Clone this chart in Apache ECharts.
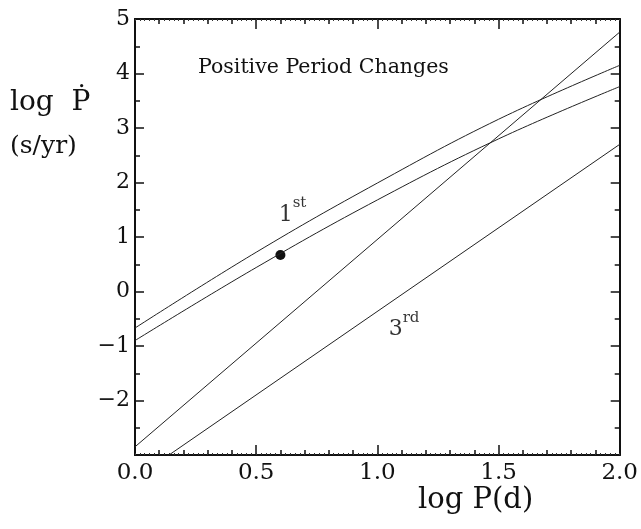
<!DOCTYPE html>
<html>
<head>
<meta charset="utf-8">
<script src="https://cdn.jsdelivr.net/npm/echarts@6/dist/echarts.min.js"></script>
<style>html,body{margin:0;padding:0;background:#fff}#c{width:641px;height:529px}</style>
</head>
<body>
<div id="c"></div>
<script>
// ---- data ----
const xTicks = [0.0, 0.5, 1.0, 1.5, 2.0];
const yTicks = [-2, -1, 0, 1, 2, 3, 4, 5];
const curveX = [0.0, 0.5, 1.0, 1.5, 2.0];
const curveUpper = [-0.67, 0.72, 1.99, 3.16, 4.15];
const curveLower = [-0.90, 0.44, 1.68, 2.80, 3.76];
const steepX = [0.0, 2.0];
const steepY = [-2.85, 4.76];
const thirdX = [0.0, 2.0];
const thirdY = [-3.43, 2.70];
const starPoint = [0.6, 0.67];
const labelFirstPos = [0.65, 1.48];
const labelThirdPos = [1.11, -0.62];
const titleText = 'Positive Period Changes';

const FONT = 'DejaVu Serif';
const zip = (xs, ys) => xs.map((x, i) => [x, ys[i]]);

const baseX = {type: 'value', min: 0, max: 2, splitLine: {show: false}, axisLine: {onZero: false, lineStyle: {color: '#111', width: 2}}};
const baseY = {type: 'value', min: -3, max: 5, splitLine: {show: false}, axisLine: {onZero: false, lineStyle: {color: '#111', width: 2}}};

const chart = echarts.init(document.getElementById('c'));
const lineStyle = {color: '#222', width: 1};
chart.setOption({
  animation: false,
  backgroundColor: '#fff',
  grid: {left: 135, right: 19, top: 19, bottom: 74, containLabel: false},
  xAxis: [
    Object.assign({}, baseX, {position: 'bottom', interval: 0.5,
      axisTick: {inside: true, length: 10, lineStyle: {color: '#111', width: 1.5}},
      minorTick: {show: true, splitNumber: 5, length: 5, lineStyle: {color: '#111', width: 1.5}},
      axisLabel: {fontFamily: FONT, fontSize: 23, color: '#111', margin: 7,
        formatter: v => xTicks.some(t => Math.abs(t - v) < 1e-9) ? v.toFixed(1) : ''}}),
    Object.assign({}, baseX, {position: 'top', interval: 0.5,
      axisTick: {inside: true, length: 10, lineStyle: {color: '#111', width: 1.5}},
      minorTick: {show: true, splitNumber: 5, length: 5, lineStyle: {color: '#111', width: 1.5}},
      axisLabel: {show: false}}),
    Object.assign({}, baseX, {position: 'bottom', interval: 0.02,
      axisTick: {inside: true, length: 2, lineStyle: {color: '#333', width: 1}},
      axisLabel: {show: false}}),
    Object.assign({}, baseX, {position: 'top', interval: 0.02,
      axisTick: {inside: true, length: 2, lineStyle: {color: '#333', width: 1}},
      axisLabel: {show: false}})
  ],
  yAxis: [
    Object.assign({}, baseY, {position: 'left', interval: 1,
      axisTick: {inside: true, length: 9, lineStyle: {color: '#111', width: 1.5}},
      minorTick: {show: true, splitNumber: 2, length: 5, lineStyle: {color: '#111', width: 1.5}},
      axisLabel: {fontFamily: FONT, fontSize: 22, color: '#111', margin: 5,
        formatter: v => yTicks.includes(v) ? (v < 0 ? '\u2212' + Math.abs(v) : String(v)) : ''}}),
    Object.assign({}, baseY, {position: 'right', interval: 1,
      axisTick: {inside: true, length: 9, lineStyle: {color: '#111', width: 1.5}},
      minorTick: {show: true, splitNumber: 2, length: 5, lineStyle: {color: '#111', width: 1.5}},
      axisLabel: {show: false}})
  ],
  series: [
    {type: 'line', xAxisIndex: 0, yAxisIndex: 0, data: zip(curveX, curveUpper), smooth: 0.4, showSymbol: false, lineStyle, clip: true},
    {type: 'line', xAxisIndex: 0, yAxisIndex: 0, data: zip(curveX, curveLower), smooth: 0.4, showSymbol: false, lineStyle, clip: true},
    {type: 'line', xAxisIndex: 0, yAxisIndex: 0, data: zip(steepX, steepY), showSymbol: false, lineStyle, clip: true},
    {type: 'line', xAxisIndex: 0, yAxisIndex: 0, data: zip(thirdX, thirdY), showSymbol: false, lineStyle, clip: true},
    {type: 'scatter', xAxisIndex: 0, yAxisIndex: 0, data: [starPoint], symbol: 'circle', symbolSize: 10, itemStyle: {color: '#111', opacity: 1}},
    {type: 'scatter', xAxisIndex: 0, yAxisIndex: 0, symbolSize: 0, silent: true,
      data: [{value: labelFirstPos, name: 'first'}, {value: labelThirdPos, name: 'third'}],
      label: {show: true, position: 'inside', color: '#111', fontFamily: FONT,
        formatter: p => p.name === 'first' ? '{b|1}{s|st}' : '{b|3}{s|rd}',
        rich: {
          b: {fontFamily: FONT, fontSize: 22, color: '#000', lineHeight: 30, verticalAlign: 'bottom'},
          s: {fontFamily: FONT, fontSize: 15, color: '#000', lineHeight: 30, verticalAlign: 'top'}
        }}}
  ],
  graphic: [
    {type: 'text', left: 198, top: 57, style: {text: titleText, fontFamily: FONT, fontSize: 20.5, fill: '#111'}},
    {type: 'text', left: 10, top: 89, style: {text: 'log  \u1E56', fontFamily: FONT, fontSize: 28, fill: '#111'}},
    {type: 'text', left: 10, top: 134, style: {text: '(s/yr)', fontFamily: FONT, fontSize: 25, fill: '#111'}},
    {type: 'text', left: 418, top: 486, style: {text: 'log P(d)', fontFamily: FONT, fontSize: 29, fill: '#111'}}
  ]
});
</script>
</body>
</html>
